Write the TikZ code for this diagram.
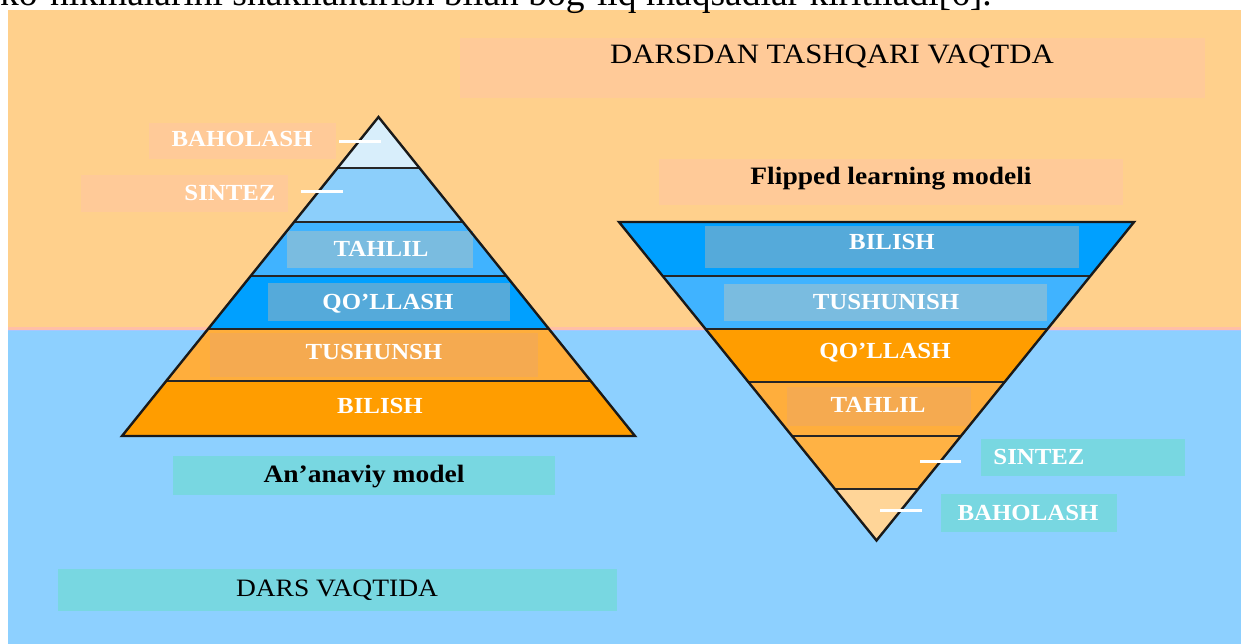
\documentclass[tikz,border=0pt]{standalone}
\usepackage{fontspec}
\setmainfont{Liberation Serif}
\newfontfamily\wfont{Liberation Serif}[FakeStretch=1.08]
\newfontfamily\tfont{Liberation Serif}[FakeStretch=1.1]
\definecolor{bgorange}{HTML}{FFD08C}
\definecolor{bgblue}{HTML}{8DD0FF}
\definecolor{peachc}{HTML}{FFCA98}
\definecolor{cyanc}{HTML}{78D7E1}
\definecolor{lay1}{HTML}{D8EEFB}
\definecolor{lay2}{HTML}{8CCFFB}
\definecolor{lay3}{HTML}{40B3FF}
\definecolor{lay4}{HTML}{00A0FF}
\definecolor{lay5}{HTML}{FFAE3C}
\definecolor{lay6}{HTML}{FF9D00}
\definecolor{lay7}{HTML}{FFB244}
\definecolor{lay8}{HTML}{FFD598}
\definecolor{boxlb}{HTML}{7ABCE0}
\definecolor{boxdb}{HTML}{55AADA}
\definecolor{boxor}{HTML}{F5AA50}
\definecolor{pinkline}{HTML}{FFBFA8}
\definecolor{lavline}{HTML}{A6C6FF}
\begin{document}
\begin{tikzpicture}[x=1pt,y=-1pt,
  lab/.style={text=white,font=\wfont\fontsize{23}{26}\selectfont\bfseries,inner sep=0pt,anchor=base},
  ttl/.style={text=black,font=\tfont\fontsize{25}{28}\selectfont\bfseries,inner sep=0pt,anchor=base},
  reg/.style={text=black,font=\tfont\fontsize{25}{28}\selectfont,inner sep=0pt,anchor=base},
  wl/.style={draw=white,line width=3pt},
  outl/.style={draw=black!90,line width=2.4pt,line join=miter},
  divl/.style={draw=black!85,line width=2pt}
]
\clip (0,0) rectangle (1241,644);
\fill[white] (0,0) rectangle (1241,644);
% backgrounds
\fill[bgorange] (8,10) rectangle (1241,327);
\fill[pinkline] (8,327) rectangle (1241,329.5);
\fill[lavline] (8,329.5) rectangle (1241,331);
\fill[bgblue] (8,331) rectangle (1241,644);
% cut-off text line at top (cut off in the reference as well)
\node[font=\fontsize{37.5}{40}\selectfont,inner sep=0pt,anchor=base west] (topline) at (0,6) {ko‘nikmalarini shakllantirish bilan bog‘liq maqsadlar kiritiladi[6].};
% label boxes
\fill[peachc] (460,38) rectangle (1205,98);
\fill[peachc] (149,123) rectangle (336,159);
\fill[peachc] (81,175) rectangle (288,212);
\fill[peachc] (659,159) rectangle (1123,205);
\fill[cyanc] (173,456) rectangle (555,495);
\fill[cyanc] (58,569) rectangle (617,611);
\fill[cyanc] (981,439) rectangle (1185,476);
\fill[cyanc] (941,494) rectangle (1117,532);
% left pyramid layers
\fill[lay1] (378.5,117) -- (419.5,168) -- (337.5,168) -- cycle;
\fill[lay2] (337.5,168) -- (419.5,168) -- (462.9,222) -- (294.1,222) -- cycle;
\fill[lay3] (294.1,222) -- (462.9,222) -- (506.3,276) -- (250.7,276) -- cycle;
\fill[lay4] (250.7,276) -- (506.3,276) -- (549,329) -- (208,329) -- cycle;
\fill[lay5] (208,329) -- (549,329) -- (590.8,381) -- (166.2,381) -- cycle;
\fill[lay6] (166.2,381) -- (590.8,381) -- (635,436) -- (122,436) -- cycle;
\fill[boxlb] (287,231) rectangle (473,268);
\fill[boxdb] (268,283) rectangle (510,321);
\fill[boxor] (210,333) rectangle (538,377);
% right pyramid layers
\fill[lay4] (619,222) -- (1134,222) -- (1090.3,276) -- (662.7,276) -- cycle;
\fill[lay3] (662.7,276) -- (1090.3,276) -- (1047.5,329) -- (705.5,329) -- cycle;
\fill[lay6] (705.5,329) -- (1047.5,329) -- (1004.6,382) -- (748.4,382) -- cycle;
\fill[lay5] (748.4,382) -- (1004.6,382) -- (961,436) -- (792,436) -- cycle;
\fill[lay7] (792,436) -- (961,436) -- (918.1,489) -- (834.9,489) -- cycle;
\fill[lay8] (834.9,489) -- (918.1,489) -- (876.5,540.5) -- cycle;
\fill[boxdb] (705,226) rectangle (1079,268);
\fill[boxlb] (724,284) rectangle (1047,321);
\fill[boxor] (787,387) rectangle (971,426);
% dividers and outlines
\draw[divl] (337.5,168) -- (419.5,168) (294.1,222) -- (462.9,222) (250.7,276) -- (506.3,276)
  (208,329) -- (549,329) (166.2,381) -- (590.8,381);
\draw[outl] (378.5,117) -- (635,436) -- (122,436) -- cycle;
\draw[divl] (662.7,276) -- (1090.3,276) (705.5,329) -- (1047.5,329) (748.4,382) -- (1004.6,382)
  (792,436) -- (961,436) (834.9,489) -- (918.1,489);
\draw[outl] (619,222) -- (1134,222) -- (876.5,540.5) -- cycle;
% white connector lines
\coordinate (lbA) at (339,141.5); \coordinate (lbB) at (381,141.5);
\coordinate (lsA) at (301,192);   \coordinate (lsB) at (343,192);
\coordinate (rsA) at (920,461);   \coordinate (rsB) at (961,461);
\coordinate (rbA) at (880,510);   \coordinate (rbB) at (922,510);
\draw[wl] (lbA) -- (lbB);
\draw[wl] (lsA) -- (lsB);
\draw[wl] (rsA) -- (rsB);
\draw[wl] (rbA) -- (rbB);
% texts
\node[reg,font=\tfont\fontsize{28}{30}\selectfont] (tdarsdan) at (832,64) {DARSDAN TASHQARI VAQTDA};
\node[reg] (tdars) at (337,596) {DARS VAQTIDA};
\node[ttl] (tflip) at (891,185) {Flipped learning modeli};
\node[ttl] (tanan) at (364,482) {An’anaviy model};
\node[lab] (lbah) at (242,147) {BAHOLASH};
\node[lab] (lsin) at (230,201) {SINTEZ};
\node[lab] (ltah) at (381,257) {TAHLIL};
\node[lab] (lqol) at (388,309) {QO’LLASH};
\node[lab] (ltus) at (374,359) {TUSHUNSH};
\node[lab] (lbil) at (380,413) {BILISH};
\node[lab] (rbil) at (892,250) {BILISH};
\node[lab] (rtus) at (886,309) {TUSHUNISH};
\node[lab] (rqol) at (885,358) {QO’LLASH};
\node[lab] (rtah) at (878,412) {TAHLIL};
\node[lab] (rsin) at (1039,464) {SINTEZ};
\node[lab] (rbah) at (1028,520) {BAHOLASH};
\end{tikzpicture}
\end{document}
